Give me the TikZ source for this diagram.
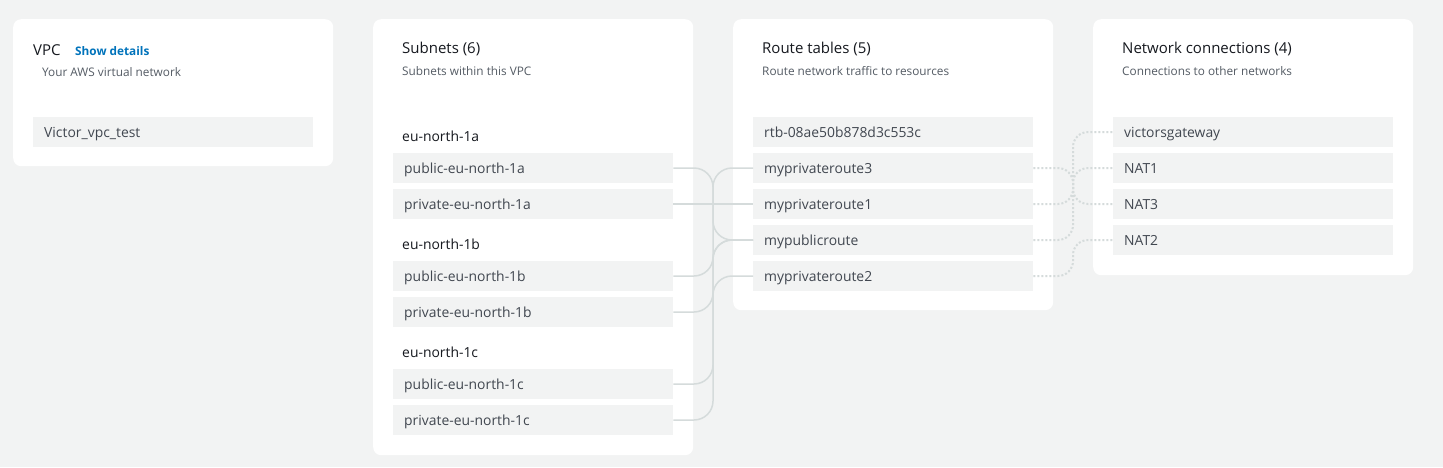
\documentclass[tikz,border=0pt]{standalone}
\usepackage{fontspec}
\setmainfont{Open Sans}
\definecolor{pagebg}{HTML}{F2F3F3}
\definecolor{itembg}{HTML}{F2F3F3}
\definecolor{linec}{HTML}{D5DBDB}
\definecolor{titlec}{HTML}{16191F}
\definecolor{subc}{HTML}{545B64}
\definecolor{itemc}{HTML}{414750}
\definecolor{linkc}{HTML}{0073BB}
\begin{document}
\begin{tikzpicture}[x=1pt,y=-1pt,
  card/.style={fill=white, rounded corners=8pt, anchor=north west, inner sep=0pt},
  item/.style={fill=itembg, anchor=west, minimum height=30pt, text width=258pt, inner xsep=11pt, inner ysep=0pt, align=left, text height=12pt, text depth=2pt, font=\fontsize{13.9}{15}\selectfont, text=itemc},
  ttl/.style={anchor=base west, inner sep=0pt, font=\fontsize{15}{17}\selectfont, text=titlec},
  sub/.style={anchor=base west, inner sep=0pt, font=\fontsize{11.8}{13}\selectfont, text=subc},
  az/.style={anchor=base west, inner sep=0pt, font=\fontsize{13.9}{15}\selectfont, text=titlec},
  conn/.style={draw=linec, line width=1.5pt, rounded corners=19pt},
  dconn/.style={draw=linec, line width=2pt, dash pattern=on 2pt off 2pt, rounded corners=15pt}]
\useasboundingbox[fill=pagebg] (0,0) rectangle (1443,467);
% cards
\node[card, minimum width=320pt, minimum height=147pt] (vpccard) at (13,19) {};
\node[card, minimum width=320pt, minimum height=436pt] (subcard) at (373,19) {};
\node[card, minimum width=320pt, minimum height=291pt] (rtcard) at (733,19) {};
\node[card, minimum width=320pt, minimum height=256pt] (nccard) at (1093,19) {};
% VPC
\node[ttl] (vpct) at (33,55) {VPC};
\node[anchor=base west, inner sep=0pt, font=\fontsize{11.8}{13}\selectfont\bfseries, text=linkc] (vpcsd) at (75,55) {Show details};
\node[sub] (vpcs) at (42,76) {Your AWS virtual network};
\node[item] (vpc) at (33,132) {Victor\_vpc\_test};
% Subnets
\node[ttl] (subt) at (402,53) {Subnets (6)};
\node[sub] (subs) at (402,75) {Subnets within this VPC};
\node[az] (aza) at (402,141) {eu-north-1a};
\node[item] (pub1a) at (393,168) {public-eu-north-1a};
\node[item] (prv1a) at (393,204) {private-eu-north-1a};
\node[az] (azb) at (402,249) {eu-north-1b};
\node[item] (pub1b) at (393,276) {public-eu-north-1b};
\node[item] (prv1b) at (393,312) {private-eu-north-1b};
\node[az] (azc) at (402,357) {eu-north-1c};
\node[item] (pub1c) at (393,384) {public-eu-north-1c};
\node[item] (prv1c) at (393,420) {private-eu-north-1c};
% Route tables
\node[ttl] (rtt) at (762,53) {Route tables (5)};
\node[sub] (rts) at (762,75) {Route network traffic to resources};
\node[item] (rtb) at (753,132) {rtb-08ae50b878d3c553c};
\node[item] (rt3) at (753,168) {myprivateroute3};
\node[item] (rt1) at (753,204) {myprivateroute1};
\node[item] (rtp) at (753,240) {mypublicroute};
\node[item] (rt2) at (753,276) {myprivateroute2};
% Network connections
\node[ttl] (nct) at (1122,53) {Network connections (4)};
\node[sub] (ncs) at (1122,75) {Connections to other networks};
\node[item] (igw) at (1113,132) {victorsgateway};
\node[item] (nat1) at (1113,168) {NAT1};
\node[item] (nat3) at (1113,204) {NAT3};
\node[item] (nat2) at (1113,240) {NAT2};
% buses
\coordinate (busL) at (713,0);
\coordinate (busR) at (1073,0);
% subnet -> route table
\draw[conn] (pub1a.east) -- (pub1a.east -| busL) |- (rtp.west);
\draw[conn] (pub1b.east) -- (pub1b.east -| busL) |- (rtp.west);
\draw[conn] (pub1c.east) -- (pub1c.east -| busL) |- (rtp.west);
\draw[conn] (prv1a.east) -- (rt1.west);
\draw[conn] (prv1b.east) -- (prv1b.east -| busL) |- (rt2.west);
\draw[conn] (prv1c.east) -- (prv1c.east -| busL) |- (rt3.west);
% route table -> network connections
\draw[dconn] (rtp.east) -- (rtp.east -| busR) |- (igw.west);
\draw[dconn] (rt3.east) -- (rt3.east -| busR) |- (nat3.west);
\draw[dconn] (rt1.east) -- (rt1.east -| busR) |- (nat1.west);
\draw[dconn] (rt2.east) -- (rt2.east -| busR) |- (nat2.west);
\end{tikzpicture}
\end{document}
